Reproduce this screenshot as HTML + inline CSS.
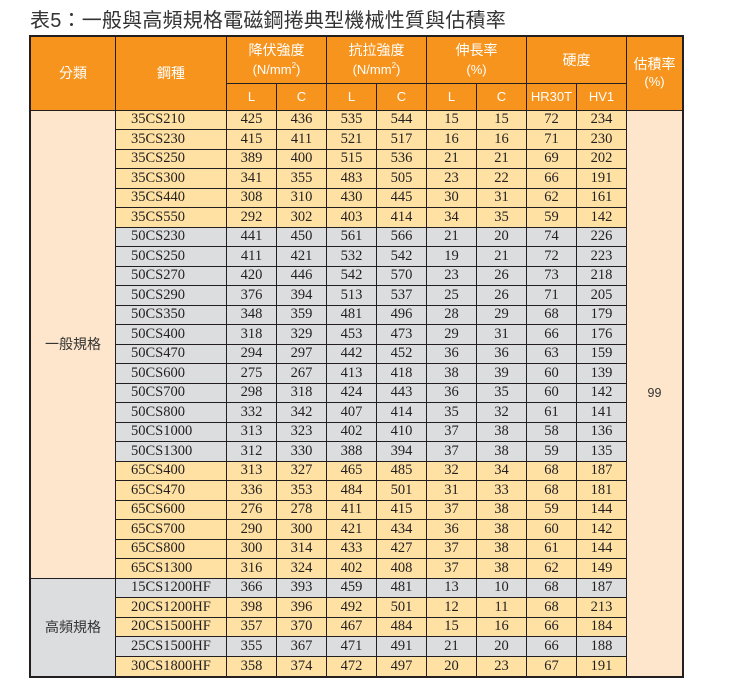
<!DOCTYPE html>
<html><head><meta charset="utf-8">
<style>
html,body{margin:0;padding:0;background:#fff;}
body{width:735px;height:683px;position:relative;overflow:hidden;}
.title{position:absolute;left:30px;top:11px;font-family:"Liberation Sans","Noto Sans CJK TC",sans-serif;font-size:20px;line-height:20px;color:#333;white-space:nowrap;letter-spacing:0.2px;}
.wrap{position:absolute;left:29px;top:35px;border:2px solid #231f20;width:651px;}
.g{display:grid;grid-template-columns:85px 111px repeat(8,50px) 55px;grid-template-rows:47px 26.5px repeat(29,19.5px);}
.g>div{box-sizing:border-box;border-right:1px solid #231f20;border-bottom:1px solid #231f20;display:flex;align-items:center;justify-content:center;overflow:hidden;white-space:nowrap;}
.h{background:#f7941d;color:#fff;font-family:"Liberation Sans","Noto Sans CJK TC",sans-serif;font-size:14px;line-height:19px;text-align:center;flex-direction:column;}
.s{font-size:13px;}
.y{background:#ffe2a3;}
.gr{background:#dcdddf;}
.g>div.d{font-family:"Liberation Serif",serif;font-size:14.5px;color:#231f20;}
.g>div.n{justify-content:flex-start;padding-left:15px;}
.cat{font-family:"Liberation Sans","Noto Sans CJK TC",sans-serif;font-size:14px;color:#333;}
.nr{border-right:none !important;}
.nb{border-bottom:none !important;}
sup{font-size:8px;line-height:0;vertical-align:6px;}
</style></head><body>
<div class="title">表5：一般與高頻規格電磁鋼捲典型機械性質與估積率</div>
<div class="wrap"><div class="g">
<div class="h" style="grid-column:1;grid-row:1/3;">分類</div>
<div class="h" style="grid-column:2;grid-row:1/3;">鋼種</div>
<div class="h" style="grid-column:3/5;grid-row:1;"><span>降伏強度</span><span class="s">(N/mm<sup>2</sup>)</span></div>
<div class="h" style="grid-column:5/7;grid-row:1;"><span>抗拉強度</span><span class="s">(N/mm<sup>2</sup>)</span></div>
<div class="h" style="grid-column:7/9;grid-row:1;"><span>伸長率</span><span class="s">(%)</span></div>
<div class="h" style="grid-column:9/11;grid-row:1;">硬度</div>
<div class="h nr" style="grid-column:11;grid-row:1/3;line-height:18px;"><span>估積率</span><span class="s">(%)</span></div>
<div class="h s" style="grid-column:3;grid-row:2;">L</div>
<div class="h s" style="grid-column:4;grid-row:2;">C</div>
<div class="h s" style="grid-column:5;grid-row:2;">L</div>
<div class="h s" style="grid-column:6;grid-row:2;">C</div>
<div class="h s" style="grid-column:7;grid-row:2;">L</div>
<div class="h s" style="grid-column:8;grid-row:2;">C</div>
<div class="h s" style="grid-column:9;grid-row:2;">HR30T</div>
<div class="h s" style="grid-column:10;grid-row:2;">HV1</div>
<div class="cat" style="grid-column:1;grid-row:3/27;background:#fde6cb;">一般規格</div>
<div class="cat nb" style="grid-column:1;grid-row:27/32;background:#dcdddf;">高頻規格</div>
<div class="nr nb" style="grid-column:11;grid-row:3/32;background:#fde6cb;font-family:'Liberation Sans',sans-serif;font-size:12.5px;color:#333;">99</div>

<div class="d n y">35CS210</div><div class="d y">425</div><div class="d y">436</div><div class="d y">535</div><div class="d y">544</div><div class="d y">15</div><div class="d y">15</div><div class="d y">72</div><div class="d y">234</div>
<div class="d n y">35CS230</div><div class="d y">415</div><div class="d y">411</div><div class="d y">521</div><div class="d y">517</div><div class="d y">16</div><div class="d y">16</div><div class="d y">71</div><div class="d y">230</div>
<div class="d n y">35CS250</div><div class="d y">389</div><div class="d y">400</div><div class="d y">515</div><div class="d y">536</div><div class="d y">21</div><div class="d y">21</div><div class="d y">69</div><div class="d y">202</div>
<div class="d n y">35CS300</div><div class="d y">341</div><div class="d y">355</div><div class="d y">483</div><div class="d y">505</div><div class="d y">23</div><div class="d y">22</div><div class="d y">66</div><div class="d y">191</div>
<div class="d n y">35CS440</div><div class="d y">308</div><div class="d y">310</div><div class="d y">430</div><div class="d y">445</div><div class="d y">30</div><div class="d y">31</div><div class="d y">62</div><div class="d y">161</div>
<div class="d n y">35CS550</div><div class="d y">292</div><div class="d y">302</div><div class="d y">403</div><div class="d y">414</div><div class="d y">34</div><div class="d y">35</div><div class="d y">59</div><div class="d y">142</div>
<div class="d n gr">50CS230</div><div class="d gr">441</div><div class="d gr">450</div><div class="d gr">561</div><div class="d gr">566</div><div class="d gr">21</div><div class="d gr">20</div><div class="d gr">74</div><div class="d gr">226</div>
<div class="d n gr">50CS250</div><div class="d gr">411</div><div class="d gr">421</div><div class="d gr">532</div><div class="d gr">542</div><div class="d gr">19</div><div class="d gr">21</div><div class="d gr">72</div><div class="d gr">223</div>
<div class="d n gr">50CS270</div><div class="d gr">420</div><div class="d gr">446</div><div class="d gr">542</div><div class="d gr">570</div><div class="d gr">23</div><div class="d gr">26</div><div class="d gr">73</div><div class="d gr">218</div>
<div class="d n gr">50CS290</div><div class="d gr">376</div><div class="d gr">394</div><div class="d gr">513</div><div class="d gr">537</div><div class="d gr">25</div><div class="d gr">26</div><div class="d gr">71</div><div class="d gr">205</div>
<div class="d n gr">50CS350</div><div class="d gr">348</div><div class="d gr">359</div><div class="d gr">481</div><div class="d gr">496</div><div class="d gr">28</div><div class="d gr">29</div><div class="d gr">68</div><div class="d gr">179</div>
<div class="d n gr">50CS400</div><div class="d gr">318</div><div class="d gr">329</div><div class="d gr">453</div><div class="d gr">473</div><div class="d gr">29</div><div class="d gr">31</div><div class="d gr">66</div><div class="d gr">176</div>
<div class="d n gr">50CS470</div><div class="d gr">294</div><div class="d gr">297</div><div class="d gr">442</div><div class="d gr">452</div><div class="d gr">36</div><div class="d gr">36</div><div class="d gr">63</div><div class="d gr">159</div>
<div class="d n gr">50CS600</div><div class="d gr">275</div><div class="d gr">267</div><div class="d gr">413</div><div class="d gr">418</div><div class="d gr">38</div><div class="d gr">39</div><div class="d gr">60</div><div class="d gr">139</div>
<div class="d n gr">50CS700</div><div class="d gr">298</div><div class="d gr">318</div><div class="d gr">424</div><div class="d gr">443</div><div class="d gr">36</div><div class="d gr">35</div><div class="d gr">60</div><div class="d gr">142</div>
<div class="d n gr">50CS800</div><div class="d gr">332</div><div class="d gr">342</div><div class="d gr">407</div><div class="d gr">414</div><div class="d gr">35</div><div class="d gr">32</div><div class="d gr">61</div><div class="d gr">141</div>
<div class="d n gr">50CS1000</div><div class="d gr">313</div><div class="d gr">323</div><div class="d gr">402</div><div class="d gr">410</div><div class="d gr">37</div><div class="d gr">38</div><div class="d gr">58</div><div class="d gr">136</div>
<div class="d n gr">50CS1300</div><div class="d gr">312</div><div class="d gr">330</div><div class="d gr">388</div><div class="d gr">394</div><div class="d gr">37</div><div class="d gr">38</div><div class="d gr">59</div><div class="d gr">135</div>
<div class="d n y">65CS400</div><div class="d y">313</div><div class="d y">327</div><div class="d y">465</div><div class="d y">485</div><div class="d y">32</div><div class="d y">34</div><div class="d y">68</div><div class="d y">187</div>
<div class="d n y">65CS470</div><div class="d y">336</div><div class="d y">353</div><div class="d y">484</div><div class="d y">501</div><div class="d y">31</div><div class="d y">33</div><div class="d y">68</div><div class="d y">181</div>
<div class="d n y">65CS600</div><div class="d y">276</div><div class="d y">278</div><div class="d y">411</div><div class="d y">415</div><div class="d y">37</div><div class="d y">38</div><div class="d y">59</div><div class="d y">144</div>
<div class="d n y">65CS700</div><div class="d y">290</div><div class="d y">300</div><div class="d y">421</div><div class="d y">434</div><div class="d y">36</div><div class="d y">38</div><div class="d y">60</div><div class="d y">142</div>
<div class="d n y">65CS800</div><div class="d y">300</div><div class="d y">314</div><div class="d y">433</div><div class="d y">427</div><div class="d y">37</div><div class="d y">38</div><div class="d y">61</div><div class="d y">144</div>
<div class="d n y">65CS1300</div><div class="d y">316</div><div class="d y">324</div><div class="d y">402</div><div class="d y">408</div><div class="d y">37</div><div class="d y">38</div><div class="d y">62</div><div class="d y">149</div>
<div class="d n gr">15CS1200HF</div><div class="d gr">366</div><div class="d gr">393</div><div class="d gr">459</div><div class="d gr">481</div><div class="d gr">13</div><div class="d gr">10</div><div class="d gr">68</div><div class="d gr">187</div>
<div class="d n y">20CS1200HF</div><div class="d y">398</div><div class="d y">396</div><div class="d y">492</div><div class="d y">501</div><div class="d y">12</div><div class="d y">11</div><div class="d y">68</div><div class="d y">213</div>
<div class="d n y">20CS1500HF</div><div class="d y">357</div><div class="d y">370</div><div class="d y">467</div><div class="d y">484</div><div class="d y">15</div><div class="d y">16</div><div class="d y">66</div><div class="d y">184</div>
<div class="d n gr">25CS1500HF</div><div class="d gr">355</div><div class="d gr">367</div><div class="d gr">471</div><div class="d gr">491</div><div class="d gr">21</div><div class="d gr">20</div><div class="d gr">66</div><div class="d gr">188</div>
<div class="d n y nb">30CS1800HF</div><div class="d y nb">358</div><div class="d y nb">374</div><div class="d y nb">472</div><div class="d y nb">497</div><div class="d y nb">20</div><div class="d y nb">23</div><div class="d y nb">67</div><div class="d y nb">191</div>
</div></div>
</body></html>
